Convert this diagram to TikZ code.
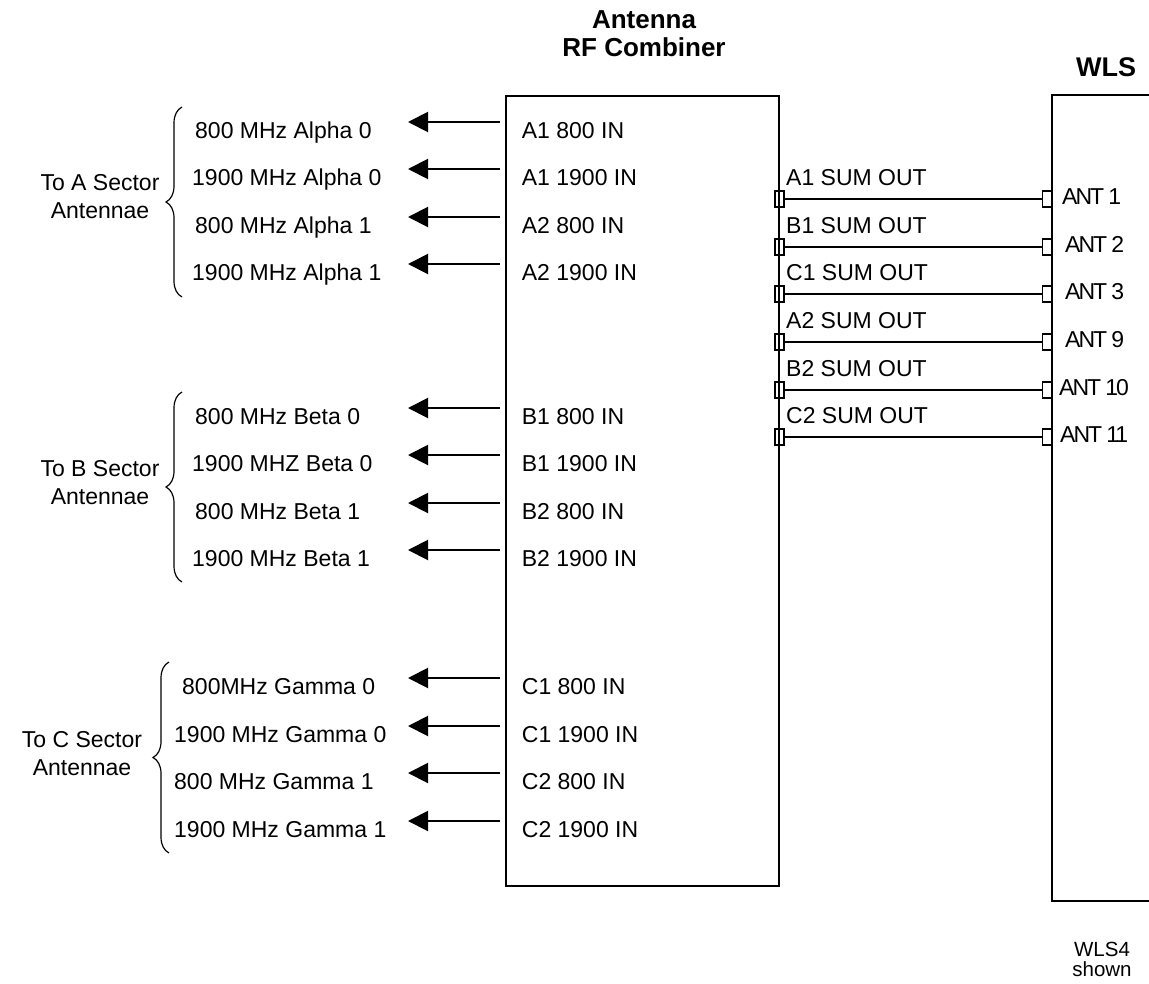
\documentclass[tikz,border=0pt]{standalone}
\usepackage{fontspec}
\setmainfont{Liberation Sans}
\newfontfamily\antfamily[LetterSpace=-9]{Liberation Sans}
\usetikzlibrary{arrows.meta,decorations.pathreplacing}
\begin{document}
\begin{tikzpicture}[x=1pt,y=-1pt,
  lbl/.style={inner sep=0pt, anchor=base west, font=\fontsize{23}{28.3}\selectfont},
  antlbl/.style={inner sep=0pt, anchor=base west, font=\antfamily\fontsize{23}{28.3}\selectfont},
  sect/.style={inner sep=0pt, anchor=north, align=center, font=\fontsize{23}{28.3}\selectfont},
  boxline/.style={line width=2pt},
  conn/.style={line width=2pt},
  arr/.style={line width=2pt, -{Triangle[length=20pt,width=20pt]}, shorten <=5pt},
  term/.style={draw, line width=1.2pt, rectangle, inner sep=0pt, minimum width=9pt, minimum height=16pt},
  brc/.style={line width=1.2pt, decorate, decoration={brace, amplitude=16pt}}]
\useasboundingbox (0,0) rectangle (1149,983);

% titles
\node[inner sep=0pt, anchor=north, align=center, font=\bfseries\fontsize{26}{28.3}\selectfont] (combt) at (644,10) {Antenna\\RF Combiner};
\node[inner sep=0pt, anchor=base, font=\bfseries\fontsize{27}{30}\selectfont] (wlst) at (1106,76) {WLS};
\node[inner sep=0pt, anchor=north, align=center, font=\fontsize{20.5}{20.7}\selectfont] (note) at (1102,941.7) {WLS4\\shown};

% boxes
\node[draw, boxline, inner sep=0pt, minimum width=273pt, minimum height=790pt, anchor=north west] (comb) at (505,95) {};
\node[inner sep=0pt, minimum width=120pt, minimum height=806pt, anchor=north west] (wls) at (1052,95) {};
\draw[boxline] (wls.north east) -- (wls.north west) -- (wls.south west) -- (wls.south east);

% input rows
\foreach \nn/\yy/\lx/\lt/\pt in {
  A1/122/195/800 MHz Alpha 0/A1 800 IN,
  A2/169/192/1900 MHz Alpha 0/A1 1900 IN,
  A3/217/195/800 MHz Alpha 1/A2 800 IN,
  A4/264/192/1900 MHz Alpha 1/A2 1900 IN,
  B1/408/195/800 MHz Beta 0/B1 800 IN,
  B2/455/192/1900 MHZ Beta 0/B1 1900 IN,
  B3/503/195/800 MHz Beta 1/B2 800 IN,
  B4/550/192/1900 MHz Beta 1/B2 1900 IN,
  C1/678/182/800MHz Gamma 0/C1 800 IN,
  C2/726/174/1900 MHz Gamma 0/C1 1900 IN,
  C3/773/174/800 MHz Gamma 1/C2 800 IN,
  C4/821/174/1900 MHz Gamma 1/C2 1900 IN}{
  \node[lbl] (port\nn) at (521.7,\yy+16.5) {\pt};
  \node[lbl] (out\nn) at (\lx,\yy+16.5) {\lt};
  \coordinate (tip\nn) at (408,\yy);
  \draw[arr] (comb.west |- tip\nn) -- (tip\nn);
}

% braces and sector labels
\coordinate (bA1) at (182,297); \coordinate (bA2) at (182,107);
\coordinate (bB1) at (182,582); \coordinate (bB2) at (182,392);
\coordinate (bC1) at (169,853); \coordinate (bC2) at (169,662);
\draw[brc] (bA1) -- (bA2);
\draw[brc] (bB1) -- (bB2);
\draw[brc] (bC1) -- (bC2);
\node[sect] (secA) at (100,174) {To A Sector\\Antennae};
\node[sect] (secB) at (100,460) {To B Sector\\Antennae};
\node[sect] (secC) at (82,731) {To C Sector\\Antennae};

% sum outputs to WLS
\foreach \rr/\yy/\sn/\an/\ax in {
  1/199/A1/ANT 1/1062,
  2/247/B1/ANT 2/1065,
  3/294/C1/ANT 3/1065,
  4/342/A2/ANT 9/1065,
  5/390/B2/ANT 10/1059,
  6/437/C2/ANT 11/1060}{
  \node[term] (s\rr) at (779.5,\yy) {};
  \node[term] (w\rr) at (1047,\yy) {};
  \draw[conn] (s\rr.east) -- (w\rr.west);
  \node[lbl] (sl\rr) at (786,\yy-14) {\sn\ SUM OUT};
  \node[antlbl] (al\rr) at (\ax,\yy+5) {\an};
}
\end{tikzpicture}
\end{document}
